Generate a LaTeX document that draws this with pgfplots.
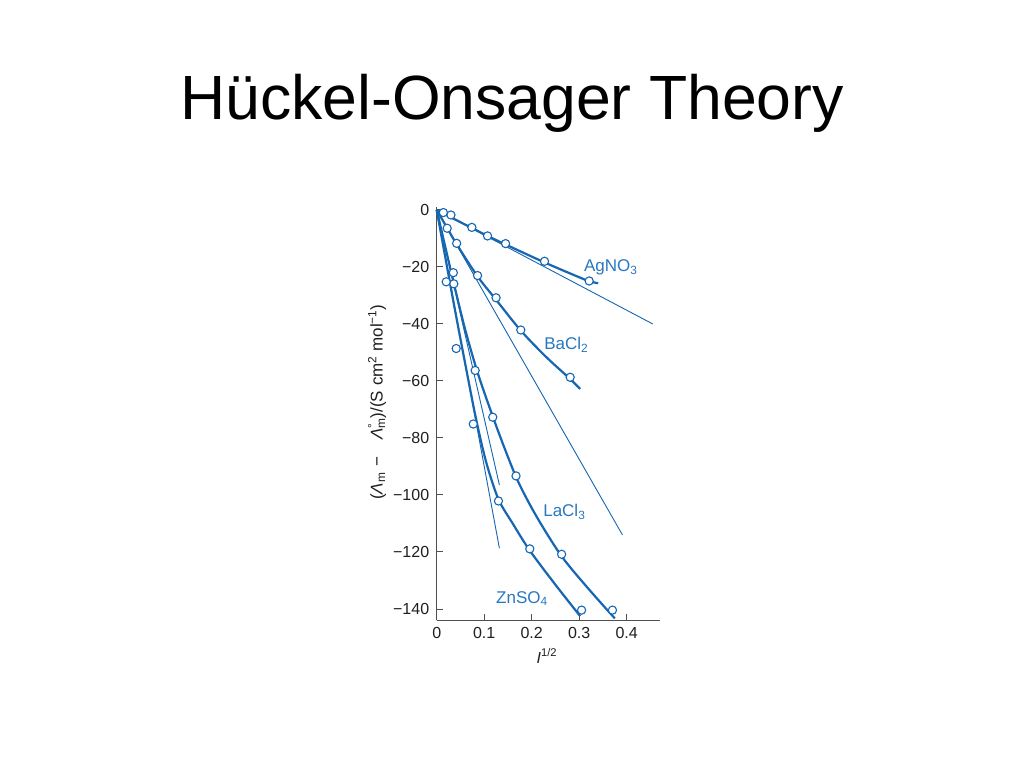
\documentclass[border=0pt]{standalone}
\usepackage{fontspec}
\setmainfont{Liberation Sans}
\usepackage{pgfplots}
\pgfplotsset{compat=1.18}
\definecolor{ln}{RGB}{22,102,178}
\definecolor{lbl}{RGB}{40,120,192}
\definecolor{axgray}{RGB}{80,80,80}
\begin{document}
\begin{tikzpicture}
\fill[white] (0,0) rectangle (1024pt,768pt);
\useasboundingbox (0,0) rectangle (1024pt,768pt);
\node[anchor=base,font=\fontsize{62.5}{70}\selectfont] at (512pt,648.5pt) {Hückel-Onsager Theory};
\begin{axis}[
  at={(436.7pt,147.6pt)}, anchor=south west,
  scale only axis, width=223.25pt, height=413.25pt,
  xmin=0, xmax=0.47, ymin=-144, ymax=1,
  axis lines*=left,
  axis line style={draw=axgray, line width=1pt},
  xtick={0,0.1,0.2,0.3,0.4}, xticklabels={0,0.1,0.2,0.3,0.4},
  ytick={-140,-120,-100,-80,-60,-40,-20,0},
  yticklabels={−140,−120,−100,−80,−60,−40,−20,0},
  tick align=inside, major tick length=6pt,
  tick style={draw=axgray, line width=1pt},
  tick label style={font=\fontsize{16}{18}\selectfont, text=black!88},
  yticklabel style={xshift=-4pt},
  xticklabel style={yshift=-3pt},
  clip=false,
]
% limiting lines
\addplot[ln, line width=0.9pt] coordinates {(0,0) (0.455,-40)};
\addplot[ln, line width=0.9pt] coordinates {(0,0) (0.391,-114)};
\addplot[ln, line width=0.9pt] coordinates {(0,0) (0.132,-96.5)};
\addplot[ln, line width=0.9pt] coordinates {(0,0) (0.132,-118.7)};
% experimental curves
\addplot[ln, line width=2.2pt, smooth] coordinates {(0,0) (0.03,-2.6) (0.074,-6.3) (0.107,-9.1) (0.145,-12.1) (0.227,-18.4) (0.29,-22.9) (0.321,-25.0) (0.34,-25.7)};
\addplot[ln, line width=2.2pt, smooth] coordinates {(0,0) (0.022,-6.3) (0.042,-12) (0.086,-23.3) (0.125,-31.5) (0.177,-42.3) (0.23,-51.5) (0.281,-59.3) (0.302,-62.8)};
\addplot[ln, line width=2.2pt, smooth] coordinates {(0,0) (0.035,-25) (0.06,-42) (0.087,-57.5) (0.119,-72.9) (0.145,-84.5) (0.172,-95.5) (0.21,-107.5) (0.263,-121.5) (0.32,-133) (0.375,-143.3)};
\addplot[ln, line width=2.2pt, smooth] coordinates {(0,0) (0.035,-32) (0.067,-60) (0.085,-75) (0.105,-89) (0.13,-101.5) (0.16,-110) (0.196,-119.5) (0.25,-131.5) (0.302,-142.5)};
% data points
\addplot[only marks, mark=*, mark size=4.1pt, mark options={draw=ln, fill=white, line width=1.1pt}] coordinates {(0.014,-0.9) (0.030,-1.75) (0.074,-6.1) (0.107,-9.1) (0.145,-11.8) (0.227,-18.0) (0.321,-24.9)};
\addplot[only marks, mark=*, mark size=4.1pt, mark options={draw=ln, fill=white, line width=1.1pt}] coordinates {(0.022,-6.4) (0.042,-11.7) (0.086,-23.0) (0.125,-30.8) (0.177,-42.1) (0.281,-58.7)};
\addplot[only marks, mark=*, mark size=4.1pt, mark options={draw=ln, fill=white, line width=1.1pt}] coordinates {(0.035,-22) (0.036,-25.9) (0.081,-56.3) (0.118,-72.7) (0.167,-93.3) (0.263,-120.8) (0.370,-140.4)};
\addplot[only marks, mark=*, mark size=4.1pt, mark options={draw=ln, fill=white, line width=1.1pt}] coordinates {(0.020,-25.2) (0.041,-48.6) (0.077,-75.1) (0.130,-102.1) (0.196,-118.9) (0.305,-140.4)};
% labels
\node[anchor=base west, text=lbl, font=\fontsize{17}{20}\selectfont, inner sep=0pt] at (axis cs:0.310,-21.6) {AgNO\textsubscript{3}};
\node[anchor=base west, text=lbl, font=\fontsize{17}{20}\selectfont, inner sep=0pt] at (axis cs:0.226,-49) {BaCl\textsubscript{2}};
\node[anchor=base west, text=lbl, font=\fontsize{17}{20}\selectfont, inner sep=0pt] at (axis cs:0.224,-107.6) {LaCl\textsubscript{3}};
\node[anchor=base west, text=lbl, font=\fontsize{17}{20}\selectfont, inner sep=0pt] at (axis cs:0.1248,-138) {ZnSO\textsubscript{4}};
\node[rotate=90, font=\fontsize{17}{19}\selectfont, text=black!88] at (axis cs:-0.1257,-67.4) {(\textit{Λ}\textsubscript{m}\,\,−\quad\textit{Λ}\makebox[0pt][l]{\textsuperscript{°}}\textsubscript{m})/(S cm\textsuperscript{2} mol\textsuperscript{−1})};
\node[font=\fontsize{16}{18}\selectfont, text=black!88] at (axis cs:0.232,-156.5) {\textit{I}\textsuperscript{1/2}};
\end{axis}
\end{tikzpicture}
\end{document}
